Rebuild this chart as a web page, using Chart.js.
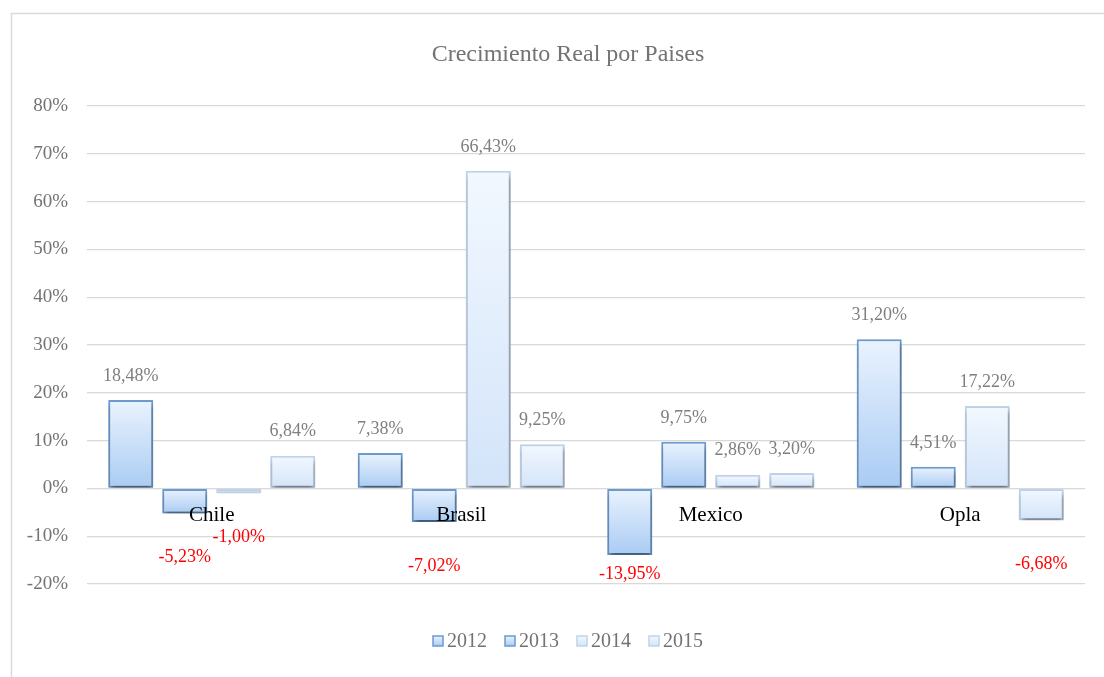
<!DOCTYPE html>
<html><head><meta charset="utf-8">
<script src="https://cdn.jsdelivr.net/npm/chart.js@4/dist/chart.umd.min.js"></script>
<style>html,body{margin:0;padding:0;background:#fff;overflow:hidden;width:1104px;height:677px}#w{width:1104px;height:677px;overflow:hidden}</style>
</head><body>
<div id="w"><canvas id="c" width="1125" height="677"></canvas></div>
<script>
const categories = ['Chile', 'Brasil', 'Mexico', 'Opla'];
const seriesNames = ['2012', '2013', '2014', '2015'];
const v2012 = [18.48, 7.38, -13.95, 31.20];
const v2013 = [-5.23, -7.02, 9.75, 4.51];
const v2014 = [-1.00, 66.43, 2.86, 17.22];
const v2015 = [6.84, 9.25, 3.20, -6.68];
const yMin = -20, yMax = 80, yStep = 10;

const FONT = '"Liberation Serif", "Times New Roman", serif';
const GRAY = '#737373';
const dark = {border: '#6b9bd0', top: '#eaf3fe', bottom: '#a9cbf3'};
const light = {border: '#bfd3ea', top: '#f2f8ff', bottom: '#d3e4f9'};
const seriesStyle = [dark, dark, light, light];
const seriesValues = [v2012, v2013, v2014, v2015];

function fmt(v) { return v.toFixed(2).replace('.', ',') + '%'; }

function barFill(style) {
  return (ctx) => {
    const chart = ctx.chart;
    const y = chart.scales && chart.scales.y;
    if (ctx.type !== 'data' || !y || !chart.chartArea) return style.bottom;
    const v = ctx.raw;
    const t = y.getPixelForValue(Math.max(v, 0));
    const b = y.getPixelForValue(Math.min(v, 0));
    const g = chart.ctx.createLinearGradient(0, t, 0, Math.max(b, t + 1));
    g.addColorStop(0, style.top);
    g.addColorStop(1, style.bottom);
    return g;
  };
}

const datasets = seriesNames.map((name, i) => ({
  label: name,
  data: seriesValues[i],
  backgroundColor: barFill(seriesStyle[i]),
  borderColor: seriesStyle[i].border,
  borderWidth: 2,
  borderSkipped: false,
  categoryPercentage: 0.866,
  barPercentage: 0.833
}));

const framePlugin = {
  id: 'frame',
  beforeDraw(chart) {
    const c = chart.ctx;
    c.save();
    c.strokeStyle = '#d9d9d9';
    c.lineWidth = 1.5;
    c.strokeRect(11.5, 13.5, 1200, 800);
    c.restore();
  }
};

const shadowPlugin = {
  id: 'shadow',
  beforeDatasetsDraw(chart) {
    const c = chart.ctx;
    c.save();
    c.shadowColor = 'rgba(0,0,0,0.45)';
    c.shadowBlur = 5;
    c.shadowOffsetX = 1;
    c.shadowOffsetY = 4;
  },
  afterDatasetsDraw(chart) {
    chart.ctx.restore();
    const c = chart.ctx;
    c.save();
    c.font = '18px ' + FONT;
    c.textAlign = 'center';
    c.textBaseline = 'middle';
    chart.data.datasets.forEach((ds, di) => {
      const meta = chart.getDatasetMeta(di);
      meta.data.forEach((el, i) => {
        const v = ds.data[i];
        let y;
        if (v >= 0) {
          c.fillStyle = '#7f7f7f';
          y = el.y - 24;
        } else {
          c.fillStyle = '#ff0000';
          y = Math.min(el.y + 44, 574);
        }
        c.fillText(fmt(v), el.x, y);
      });
    });
    c.restore();
  }
};

const legendPlugin = {
  id: 'customLegend',
  afterDraw(chart) {
    const c = chart.ctx;
    c.save();
    c.font = '20px ' + FONT;
    c.textBaseline = 'middle';
    c.textAlign = 'left';
    const box = 10, gap = 4, spacing = 18;
    const widths = chart.data.datasets.map(d => box + gap + c.measureText(d.label).width);
    const total = widths.reduce((a, b) => a + b, 0) + spacing * (widths.length - 1);
    let x = 568 - total / 2;
    const cy = 641;
    chart.data.datasets.forEach((d, i) => {
      const st = seriesStyle[i];
      const g = c.createLinearGradient(0, cy - box / 2, 0, cy + box / 2);
      g.addColorStop(0, st.top);
      g.addColorStop(1, st.bottom);
      c.fillStyle = g;
      c.fillRect(x, cy - box / 2, box, box);
      c.strokeStyle = st.border;
      c.lineWidth = 1.5;
      c.strokeRect(x, cy - box / 2, box, box);
      c.fillStyle = GRAY;
      c.fillText(d.label, x + box + gap, cy + 1);
      x += widths[i] + spacing;
    });
    c.restore();
  }
};

new Chart(document.getElementById('c'), {
  type: 'bar',
  data: { labels: categories, datasets },
  options: {
    responsive: false,
    animation: false,
    devicePixelRatio: 1,
    layout: { padding: { left: 11, right: 0, top: 0, bottom: 93 } },
    plugins: {
      legend: { display: false },
      tooltip: { enabled: false },
      title: {
        display: true,
        text: 'Crecimiento Real por Paises',
        color: GRAY,
        font: { family: FONT, size: 24, weight: 'normal', lineHeight: 1.2 },
        padding: { top: 40.6, bottom: 36.6 }
      }
    },
    scales: {
      x: {
        position: { y: 0 },
        grid: { display: false },
        border: { display: false },
        ticks: { z: 1, color: '#000', font: { family: FONT, size: 21 }, padding: 6 }
      },
      y: {
        min: yMin, max: yMax,
        afterFit(s) { s.width = 76; },
        grid: { color: '#d9d9d9', lineWidth: 1.2, drawTicks: false },
        border: { display: false },
        ticks: {
          stepSize: yStep,
          padding: 19,
          color: GRAY,
          font: { family: FONT, size: 19 },
          callback: (v) => v + '%'
        }
      },
      yRight: {
        position: 'right',
        display: true,
        min: yMin, max: yMax,
        afterFit(s) { s.width = 40; },
        grid: { display: false, drawTicks: false },
        border: { display: false },
        ticks: { display: false }
      }
    }
  },
  plugins: [framePlugin, shadowPlugin, legendPlugin]
});
</script>
</body></html>
